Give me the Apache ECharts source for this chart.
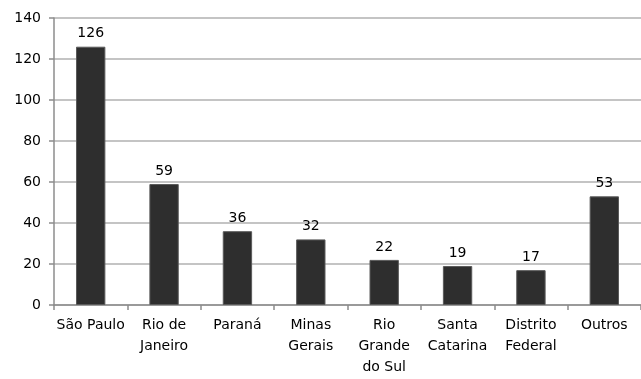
<!DOCTYPE html>
<html>
<head>
<meta charset="utf-8">
<script src="https://cdn.jsdelivr.net/npm/echarts@6/dist/echarts.min.js"></script>
<style>
  html, body { margin: 0; padding: 0; background: #fff; }
  #chart { width: 641px; height: 379px; }
</style>
</head>
<body>
<div id="chart"></div>
<script>
// estados e quantidades
var estados = ['São Paulo', 'Rio de\nJaneiro', 'Paraná', 'Minas\nGerais', 'Rio\nGrande\ndo Sul', 'Santa\nCatarina', 'Distrito\nFederal', 'Outros'];
var valores = [126, 59, 36, 32, 22, 19, 17, 53];
var yTicks = [0, 20, 40, 60, 80, 100, 120, 140];

var fonte = '"DejaVu Sans", sans-serif';
var myChart = echarts.init(document.getElementById('chart'));

var option = {
  animation: false,
  grid: { left: 54, right: -2, top: 18, bottom: 74 },
  xAxis: {
    type: 'category',
    data: estados,
    axisLine: { lineStyle: { color: '#8c8c8c', width: 1.5 } },
    axisTick: { show: true, length: 5, lineStyle: { color: '#8c8c8c', width: 1.5 } },
    axisLabel: {
      color: '#000', fontSize: 14, fontFamily: fonte,
      lineHeight: 21, margin: 10, interval: 0
    }
  },
  yAxis: {
    type: 'value',
    min: yTicks[0],
    max: yTicks[yTicks.length - 1],
    interval: 20,
    axisLine: { show: true, lineStyle: { color: '#8c8c8c', width: 1.5 } },
    axisTick: { show: true, length: 5, lineStyle: { color: '#8c8c8c', width: 1.5 } },
    splitLine: { show: true, lineStyle: { color: '#b0b0b0', width: 1.5 } },
    axisLabel: { color: '#000', fontSize: 14, fontFamily: fonte, margin: 13 }
  },
  series: [
    {
      type: 'bar',
      data: valores,
      barWidth: '40%',
      itemStyle: {
        color: '#2e2e2e',
        borderColor: '#5a5a5a',
        borderWidth: 1
      },
      label: {
        show: true, position: 'top', distance: 6,
        color: '#000', fontSize: 14, fontFamily: fonte
      }
    }
  ]
};
myChart.setOption(option);
</script>
</body>
</html>
